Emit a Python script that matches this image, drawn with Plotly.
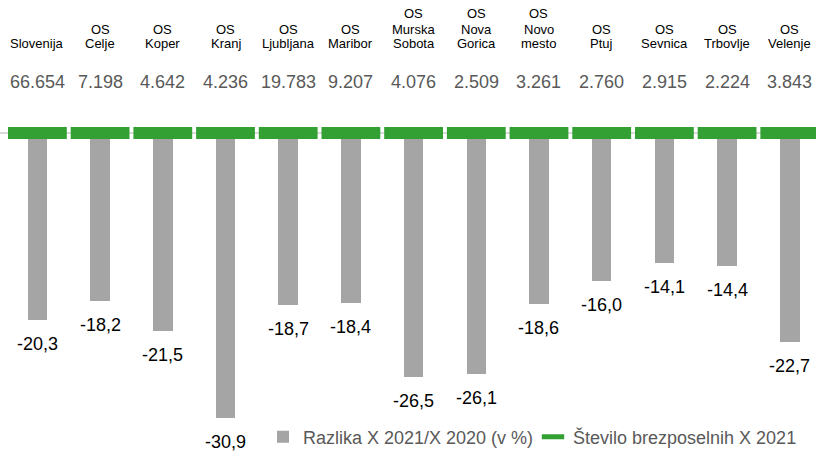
import plotly.graph_objects as go

categories = ["Slovenija", "OS<br>Celje", "OS<br>Koper", "OS<br>Kranj", "OS<br>Ljubljana", "OS<br>Maribor",
              "OS<br>Murska<br>Sobota", "OS<br>Nova<br>Gorica", "OS<br>Novo<br>mesto", "OS<br>Ptuj",
              "OS<br>Sevnica", "OS<br>Trbovlje", "OS<br>Velenje"]
razlika = [-20.3, -18.2, -21.5, -30.9, -18.7, -18.4, -26.5, -26.1, -18.6, -16.0, -14.1, -14.4, -22.7]
brezposelni = [66654, 7198, 4642, 4236, 19783, 9207, 4076, 2509, 3261, 2760, 2915, 2224, 3843]
brezposelni_labels = ["66.654", "7.198", "4.642", "4.236", "19.783", "9.207", "4.076", "2.509",
                      "3.261", "2.760", "2.915", "2.224", "3.843"]

FONT = "Liberation Sans, Arial, sans-serif"
GRAY = "#A5A5A5"
GREEN = "#33A033"

W, H = 816, 451

fig = go.Figure()
fig.add_trace(go.Bar(
    x=categories, y=razlika, name="Razlika X 2021/X 2020 (v %)",
    marker=dict(color=GRAY, line=dict(width=0)), width=0.31,
))
fig.add_trace(go.Scatter(
    x=categories, y=[0] * len(categories), name="Število brezposelnih X 2021",
    mode="markers",
    marker=dict(symbol="line-ew", size=42, color=GREEN, line=dict(color=GREEN, width=12)),
    customdata=brezposelni,
))

annotations = []
for c, v in zip(categories, razlika):
    annotations.append(dict(x=c, y=v, xref="x", yref="y", text=f"{v:.1f}".replace(".", ","),
                            showarrow=False, yanchor="top", yshift=-12,
                            font=dict(family=FONT, size=18, color="#000000")))
for c, lab in zip(categories, brezposelni_labels):
    annotations.append(dict(x=c, y=1 - 82 / H, xref="x", yref="paper", text=lab,
                            showarrow=False, yanchor="middle",
                            font=dict(family=FONT, size=18, color="#595959")))
    lines = c.split("<br>")
    for k, line in enumerate(reversed(lines)):
        annotations.append(dict(x=c, y=1 - (44 - 15 * k) / H, xref="x", yref="paper", text=line,
                                showarrow=False, yanchor="middle",
                                font=dict(family=FONT, size=13, color="#000000")))

y0_px = 133
ppu = 9.22
ymax = y0_px / ppu
ymin = -(H - y0_px) / ppu

fig.update_layout(
    width=W, height=H,
    margin=dict(l=0, r=0, t=0, b=0, autoexpand=False),
    paper_bgcolor="white", plot_bgcolor="white",
    font=dict(family=FONT, size=18, color="#595959"),
    separators=",.",
    showlegend=True,
    legend=dict(orientation="h", x=263 / W, xanchor="left", y=1 - 437 / H, yanchor="middle",
                font=dict(family=FONT, size=18, color="#595959"), bgcolor="rgba(0,0,0,0)",
                entrywidth=225, entrywidthmode="pixels", itemclick=False),
    xaxis=dict(range=[-0.5965, 12.418], showticklabels=False, showgrid=False, zeroline=False,
               showline=False, ticks=""),
    yaxis=dict(range=[ymin, ymax], showticklabels=False, showgrid=False, zeroline=True,
               zerolinecolor="#D9D9D9", zerolinewidth=2, showline=False, ticks=""),
    annotations=annotations,
    bargap=0,
)

fig.write_html("out.html", config={"displayModeBar": False},
               post_script="document.body.style.margin='0';document.body.style.overflow='hidden';")
